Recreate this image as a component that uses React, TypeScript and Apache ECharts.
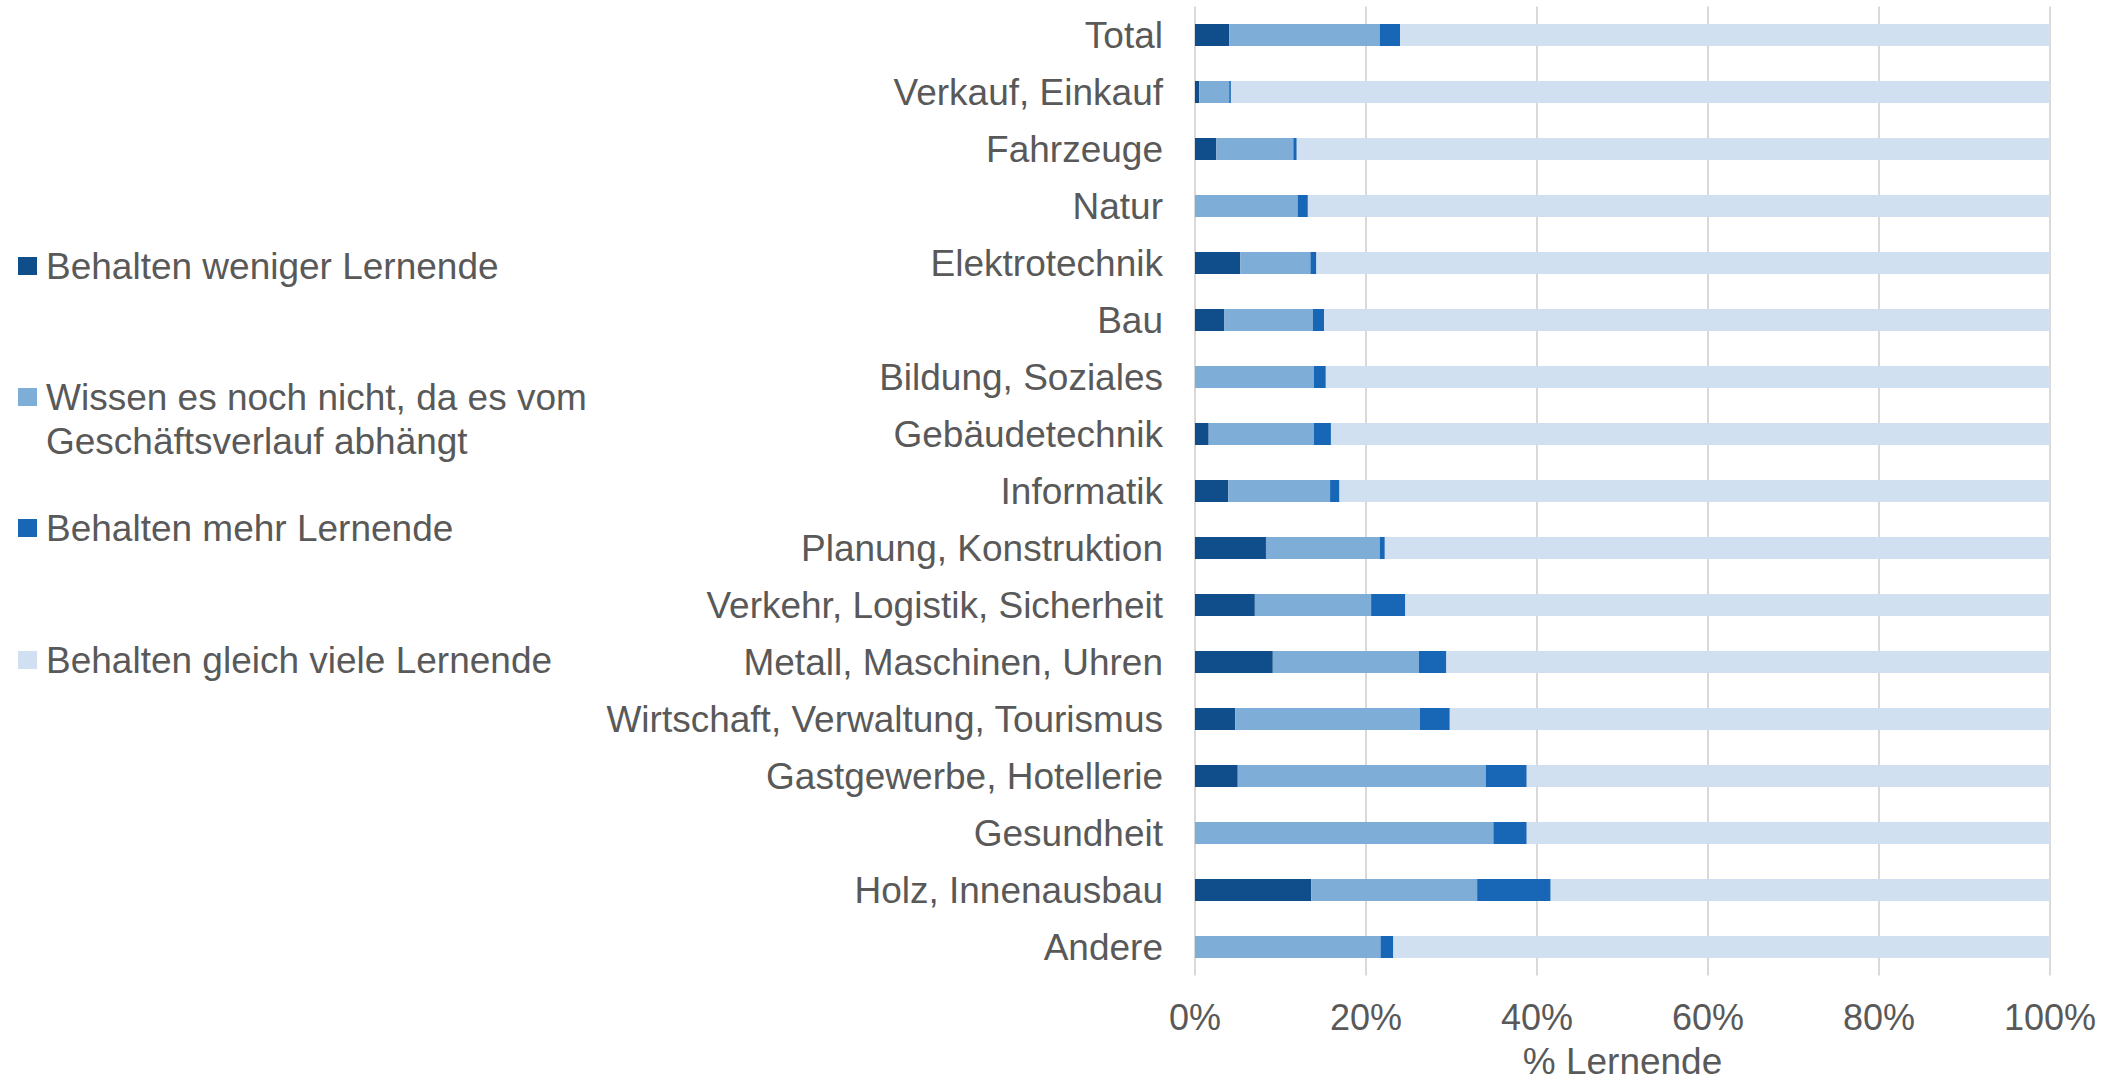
import React, { useEffect, useRef } from "react";
import * as echarts from "echarts";

const categories = [
  "Total",
  "Verkauf, Einkauf",
  "Fahrzeuge",
  "Natur",
  "Elektrotechnik",
  "Bau",
  "Bildung, Soziales",
  "Gebäudetechnik",
  "Informatik",
  "Planung, Konstruktion",
  "Verkehr, Logistik, Sicherheit",
  "Metall, Maschinen, Uhren",
  "Wirtschaft, Verwaltung, Tourismus",
  "Gastgewerbe, Hotellerie",
  "Gesundheit",
  "Holz, Innenausbau",
  "Andere",
];

const seriesNames = [
  "Behalten weniger Lernende",
  "Wissen es noch nicht, da es vom Geschäftsverlauf abhängt",
  "Behalten mehr Lernende",
  "Behalten gleich viele Lernende",
];

// Legend label lines (second entry wraps onto two lines)
const legendFirstLines = [
  "Behalten weniger Lernende",
  "Wissen es noch nicht, da es vom",
  "Behalten mehr Lernende",
  "Behalten gleich viele Lernende",
];
const legendSecondLine = "Geschäftsverlauf abhängt";

const weniger = [4.0, 0.5, 2.5, 0, 5.3, 3.4, 0, 1.6, 3.9, 8.3, 7.0, 9.1, 4.7, 5.0, 0, 13.6, 0];
const wissenNicht = [17.6, 3.5, 9.0, 12.0, 8.2, 10.4, 13.9, 12.3, 11.9, 13.3, 13.6, 17.1, 21.6, 29.0, 34.9, 19.4, 21.7];
const mehr = [2.4, 0.2, 0.4, 1.2, 0.7, 1.3, 1.4, 2.0, 1.1, 0.6, 4.0, 3.2, 3.5, 4.8, 3.9, 8.6, 1.5];
const gleich = [76.0, 95.8, 88.1, 86.8, 85.8, 84.9, 84.7, 84.1, 83.1, 77.8, 75.4, 70.6, 70.2, 61.2, 61.2, 58.4, 76.8];

const xTicks = [0, 20, 40, 60, 80, 100];

const colors = ["#0f4e8a", "#7eadd7", "#1767b6", "#d0e0f0"];
const FONT = "'Liberation Sans', Arial, sans-serif";
const TEXT_COLOR = "#595959";

export default function App() {
  const ref = useRef<HTMLDivElement>(null);

  useEffect(() => {
    if (!ref.current) return;
    const chart = echarts.init(ref.current, null, { renderer: "svg" });
    const values = [weniger, wissenNicht, mehr, gleich];

    const legendCenters = [266, 397, 528, 660];
    const legends = seriesNames.map((name, i) => ({
      data: [name],
      orient: "vertical",
      left: 18,
      top: legendCenters[i] - 21.5,
      padding: 0,
      itemWidth: 19,
      itemHeight: 18,
      itemGap: 0,
      icon: "rect",
      selectedMode: false,
      formatter: () => `{s|}{t|${legendFirstLines[i]}}`,
      textStyle: {
        fontFamily: FONT,
        fontSize: 37,
        color: TEXT_COLOR,
        lineHeight: 43,
        rich: {
          s: { width: 4 },
          t: { fontFamily: FONT, fontSize: 37, color: TEXT_COLOR, lineHeight: 43 },
        },
      },
    }));

    chart.setOption({
      animation: false,
      backgroundColor: "#ffffff",
      textStyle: { fontFamily: FONT },
      legend: legends,
      graphic: [
        {
          type: "text",
          left: 46,
          top: 441 - 21.5,
          style: {
            text: legendSecondLine,
            fontFamily: FONT,
            fontSize: 37,
            lineHeight: 43,
            fill: TEXT_COLOR,
          },
        },
      ],
      grid: {
        left: 1195,
        right: 76,
        top: 6.5,
        bottom: 109.5,
        containLabel: false,
        outerBoundsMode: "none",
      },
      xAxis: {
        type: "value",
        min: xTicks[0],
        max: xTicks[xTicks.length - 1],
        interval: 20,
        axisLine: { show: false },
        axisTick: { show: false },
        splitLine: { show: true, lineStyle: { color: "#d9d9d9", width: 2 } },
        axisLabel: {
          formatter: "{value}%",
          fontFamily: FONT,
          fontSize: 36,
          color: TEXT_COLOR,
          margin: 24,
        },
        name: "% Lernende",
        nameLocation: "middle",
        nameGap: 71,
        nameTextStyle: { fontFamily: FONT, fontSize: 37, color: TEXT_COLOR, lineHeight: 30 },
      },
      yAxis: {
        type: "category",
        data: categories,
        inverse: true,
        axisLine: { show: false },
        axisTick: { show: false },
        splitLine: { show: false },
        axisLabel: {
          fontFamily: FONT,
          fontSize: 37,
          color: TEXT_COLOR,
          margin: 32,
        },
      },
      series: seriesNames.map((name, i) => ({
        name,
        type: "bar",
        stack: "total",
        barWidth: 22,
        data: values[i],
        itemStyle: { color: colors[i] },
        emphasis: { disabled: true },
      })),
    });

    return () => chart.dispose();
  }, []);

  return (
    <div
      ref={ref}
      style={{ position: "fixed", left: 0, top: 0, width: 2126, height: 1085, background: "#fff" }}
    />
  );
}
